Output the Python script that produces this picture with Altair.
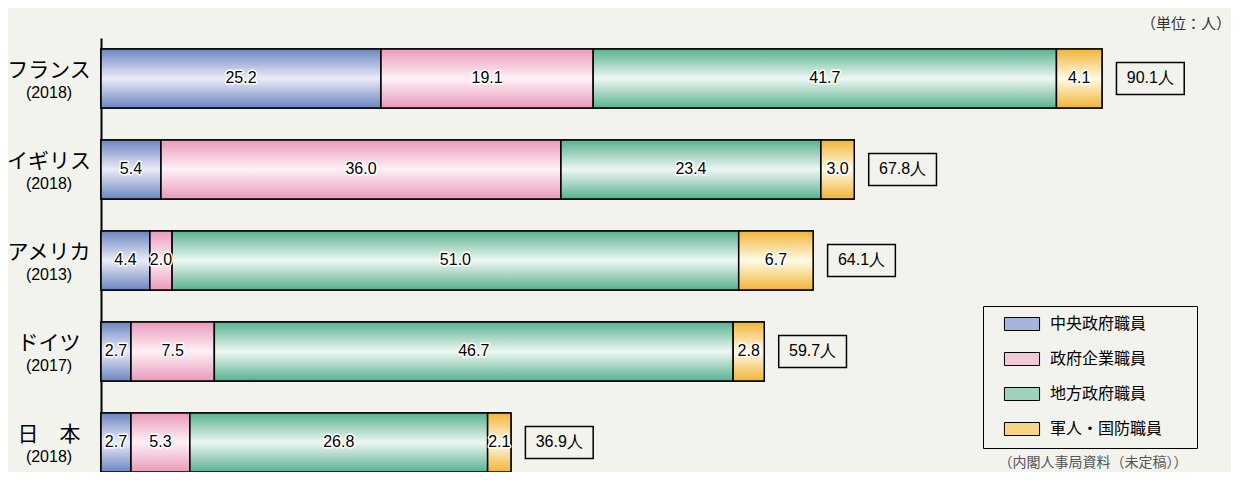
import altair as alt
import pandas as pd

countries = ["フランス", "イギリス", "アメリカ", "ドイツ", "日　本"]
years = ["(2018)", "(2018)", "(2013)", "(2017)", "(2018)"]
categories = ["中央政府職員", "政府企業職員", "地方政府職員", "軍人・国防職員"]
central = [25.2, 5.4, 4.4, 2.7, 2.7]
enterprise = [19.1, 36.0, 2.0, 7.5, 5.3]
local_gov = [41.7, 23.4, 51.0, 46.7, 26.8]
military = [4.1, 3.0, 6.7, 2.8, 2.1]
totals = [90.1, 67.8, 64.1, 59.7, 36.9]
unit_text = "（単位：人）"
source_text = "（内閣人事局資料（未定稿））"

BG = "#f3f3ee"
FONT_JP = "Noto Sans CJK JP"
FONT_NUM = "Liberation Sans"

edge_mid = {
    "中央政府職員": ("#6b85bf", "#ebebf8"),
    "政府企業職員": ("#e99ab9", "#fdf1f7"),
    "地方政府職員": ("#58b190", "#eef7f1"),
    "軍人・国防職員": ("#f0b437", "#fffbe6"),
}
legend_colors = ["#a6b3dc", "#f4c6d9", "#9fd2bd", "#f7d587"]

series = [central, enterprise, local_gov, military]
rows = []
for i, c in enumerate(countries):
    start = 0.0
    for cat, vals in zip(categories, series):
        v = vals[i]
        rows.append({"country": c, "cat": cat, "v": v, "x0": start, "x1": start + v})
        start += v
seg = pd.DataFrame(rows)
tot = pd.DataFrame({"country": countries, "year": years, "total": totals})

yscale = alt.Scale(domain=countries, paddingInner=0.3516, paddingOuter=0.0604, align=1)
xscale = alt.Scale(domain=[0, 100])
yenc = alt.Y("country:N", scale=yscale, sort=countries,
             axis=alt.Axis(labels=False, ticks=False, title=None, grid=False,
                           domainColor="black", domainWidth=2))

legend = alt.Legend(
    title=None, orient="none", legendX=882, legendY=268,
    symbolType="M-2.7,-1H2.7V1H-2.7Z", symbolSize=169,
    symbolStrokeColor="black", symbolStrokeWidth=1, symbolOpacity=1,
    rowPadding=17, padding=10, symbolOffset=21, labelOffset=20,
    labelFont=FONT_JP, labelFontSize=16, labelColor="black",
    labelExpr="datum.label + '\u3000\u2002\u200b'",
    strokeColor="black", fillColor=BG,
)

base = alt.Chart(seg)
solid = base.mark_bar(stroke="black", strokeWidth=1.5).encode(
    x=alt.X("x0:Q", scale=xscale, axis=None),
    x2="x1:Q",
    y=yenc,
    color=alt.Color("cat:N", scale=alt.Scale(domain=categories, range=legend_colors),
                    legend=legend),
)
layers = [solid]
for cat in categories:
    e, m = edge_mid[cat]
    g = alt.Gradient(gradient="linear", x1=0, y1=0, x2=0, y2=1,
                     stops=[alt.GradientStop(color=e, offset=0),
                            alt.GradientStop(color=m, offset=0.5),
                            alt.GradientStop(color=e, offset=1)])
    layers.append(
        base.transform_filter(alt.datum.cat == cat)
        .mark_bar(fill=g, stroke="black", strokeWidth=1.5)
        .encode(x=alt.X("x0:Q", scale=xscale, axis=None), x2="x1:Q", y=yenc)
    )

seg_lab = base.transform_calculate(xm="(datum.x0 + datum.x1) / 2", lab="format(datum.v, '.1f')")
halo = seg_lab.mark_text(font=FONT_NUM, fontSize=16, stroke="white", strokeWidth=3,
                         strokeJoin="round", fill="white").encode(
    x=alt.X("xm:Q", scale=xscale), y=yenc, text="lab:N")
labs = seg_lab.mark_text(font=FONT_NUM, fontSize=16, color="black").encode(
    x=alt.X("xm:Q", scale=xscale), y=yenc, text="lab:N")

tbase = alt.Chart(tot).transform_calculate(
    b0="datum.total + 1.3", b1="datum.total + 7.4", bm="datum.total + 4.35",
    lab="format(datum.total, '.1f') + '人'")
tbox = tbase.mark_bar(height=32, fill=BG, stroke="black", strokeWidth=1.5).encode(
    x=alt.X("b0:Q", scale=xscale), x2="b1:Q", y=yenc)
ttext = tbase.mark_text(font=FONT_NUM, fontSize=16, color="black").encode(
    x=alt.X("bm:Q", scale=xscale), y=yenc, text="lab:N")

cname = alt.Chart(tot).mark_text(font=FONT_JP, fontSize=21, color="black", dy=-7).encode(
    x=alt.value(-52), y=yenc, text="country:N")
cyear = alt.Chart(tot).mark_text(font=FONT_NUM, fontSize=16, color="black", dy=15).encode(
    x=alt.value(-52), y=yenc, text="year:N")

unit = alt.Chart(pd.DataFrame({"t": [unit_text]})).mark_text(
    font=FONT_JP, fontSize=15, color="#333333", align="right", baseline="middle").encode(
    x=alt.value(1130), y=alt.value(-14), text="t:N")
source = alt.Chart(pd.DataFrame({"t": [source_text]})).mark_text(
    font=FONT_JP, fontSize=14, color="#555555", align="center", baseline="middle").encode(
    x=alt.value(992), y=alt.value(425), text="t:N")

chart = alt.layer(*layers, halo, labs, tbox, ttext, cname, cyear, unit, source).properties(
    width=1111, height=434,
    padding={"left": 93, "top": 30, "right": 19, "bottom": 0},
    autosize=alt.AutoSizeParams(type="none"),
    background=BG,
).configure_view(stroke=None)

chart.save("out.html", embed_options={"renderer": "svg", "actions": False})
